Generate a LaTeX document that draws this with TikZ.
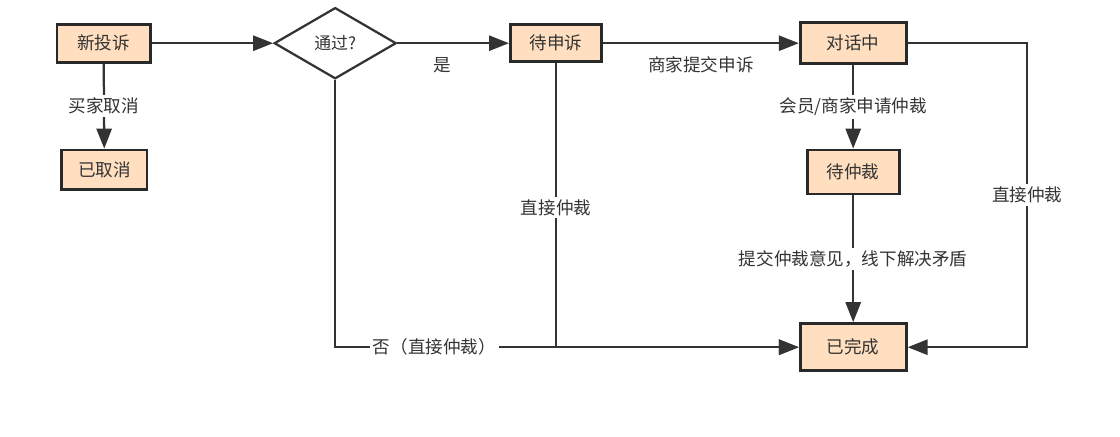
\documentclass[tikz,border=0pt]{standalone}
\usepackage{fontspec}
\setmainfont{Noto Sans CJK SC}
\usetikzlibrary{arrows.meta,shapes.geometric}
\definecolor{boxfill}{HTML}{FFDFBF}
\definecolor{ink}{HTML}{333333}
\begin{document}
\begin{tikzpicture}[
        state/.style={draw=ink!80!black, line width=2pt, fill=boxfill,
          font=\fontsize{12.5pt}{14pt}\selectfont, text=ink, inner sep=2pt},
        check/.style={diamond, draw=ink, line width=1.6pt, fill=white,
          minimum width=3.05cm, minimum height=1.78cm, inner sep=0pt,
          font=\fontsize{12pt}{14pt}\selectfont, text=ink},
        flow/.style={draw=ink, line width=1.6pt,
          -{Triangle[length=5mm,width=3.8mm]}},
        lbl/.style={fill=white, inner sep=2pt, text=ink,
          font=\fontsize{12.5pt}{14pt}\selectfont},
      ]
        \useasboundingbox (0,0) rectangle (28,-10.9);

        % States
        \node[state, minimum width=2.33cm, minimum height=0.95cm] (new)    at (2.59,-1.08)  {新投诉};
        \node[state, minimum width=2.13cm, minimum height=0.98cm] (cancel) at (2.61,-4.24)  {已取消};
        \node[check] (pass) at (8.38,-1.08) {通过?};
        \node[state, minimum width=2.28cm, minimum height=0.93cm] (appeal) at (13.9,-1.08)  {待申诉};
        \node[state, minimum width=2.65cm, minimum height=1.03cm] (talk)   at (21.33,-1.08) {对话中};
        \node[state, minimum width=2.3cm,  minimum height=1.1cm]  (arbit)  at (21.33,-4.3)  {待仲裁};
        \node[state, minimum width=2.65cm, minimum height=1.18cm] (done)   at (21.33,-8.68) {已完成};
        \coordinate (rt) at (25.68,-1.08);

        % Main line
        \draw[flow] (new) -- (pass);
        \draw[flow] (new) -- node[lbl] {买家取消} (cancel);
        \draw[flow] (pass) -- node[lbl, pos=0.4, below=7pt, fill=none] {是} (appeal);
        \draw[flow] (appeal) -- node[lbl, below=7pt, fill=none] {商家提交申诉} (talk);
        \draw[flow] (talk) -- node[lbl] {会员/商家申请仲裁} (arbit);
        \draw[flow] (arbit) -- node[lbl] {提交仲裁意见，线下解决矛盾} (done);

        % Direct arbitration
        \draw[flow] (pass.south) |- node[lbl, pos=0.607] {否（直接仲裁）} (done.west);
        \draw[flow] (appeal.south) |- node[lbl, pos=0.254] {直接仲裁} (done.west);
        \draw[flow] (talk.east) -- (rt) -- node[lbl] {直接仲裁} (rt |- done) -- (done.east);
      \end{tikzpicture}
\end{document}
